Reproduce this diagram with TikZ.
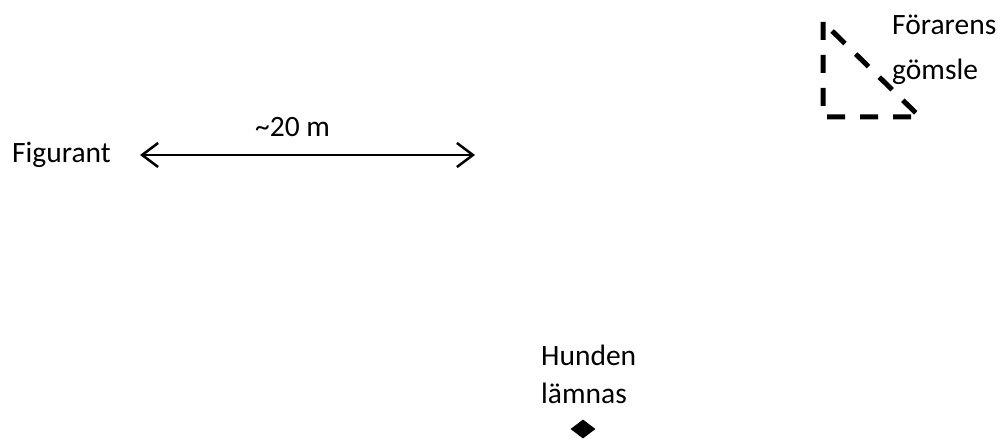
\documentclass[tikz,border=0pt]{standalone}
\usepackage{fontspec}
\setmainfont{Carlito}
\usetikzlibrary{arrows.meta,shapes.geometric}

\begin{document}
\begin{tikzpicture}[x=1pt,y=-1pt,
    every node/.style={inner sep=0pt, font=\fontsize{29.5}{35}\selectfont},
    label/.style={anchor=base west},
    span/.style={line width=2.5pt, {Straight Barb[length=16pt,width=24pt]}-{Straight Barb[length=16pt,width=24pt]}},
    hide/.style={line width=5pt, dash pattern=on 18pt off 15pt, line join=miter},
    spot/.style={diamond, fill=black, minimum width=25pt, minimum height=19pt}]
    \useasboundingbox (0,0) rectangle (997,441);

    \node[label] (figurant) at (12,163) {Figurant};
    \coordinate (left) at (140,155);
    \coordinate (right) at (475,155);
    \draw[span] (left) -- (right);
    \node[label] (dist) at (255,137) {\textasciitilde20 m};

    \coordinate (top) at (823,22);
    \coordinate (corner) at (823,117);
    \coordinate (tip) at (920,117);
    \draw[hide] (top) -- (corner) -- (tip) -- cycle;
    \node[label] (forarens) at (892,35) {Förarens};
    \node[label] (gomsle) at (892,80) {gömsle};

    \node[label] (hunden) at (541,365) {Hunden};
    \node[label] (lamnas) at (541,403) {lämnas};
    \node[spot] (dog) at (583,429) {};
\end{tikzpicture}
\end{document}
